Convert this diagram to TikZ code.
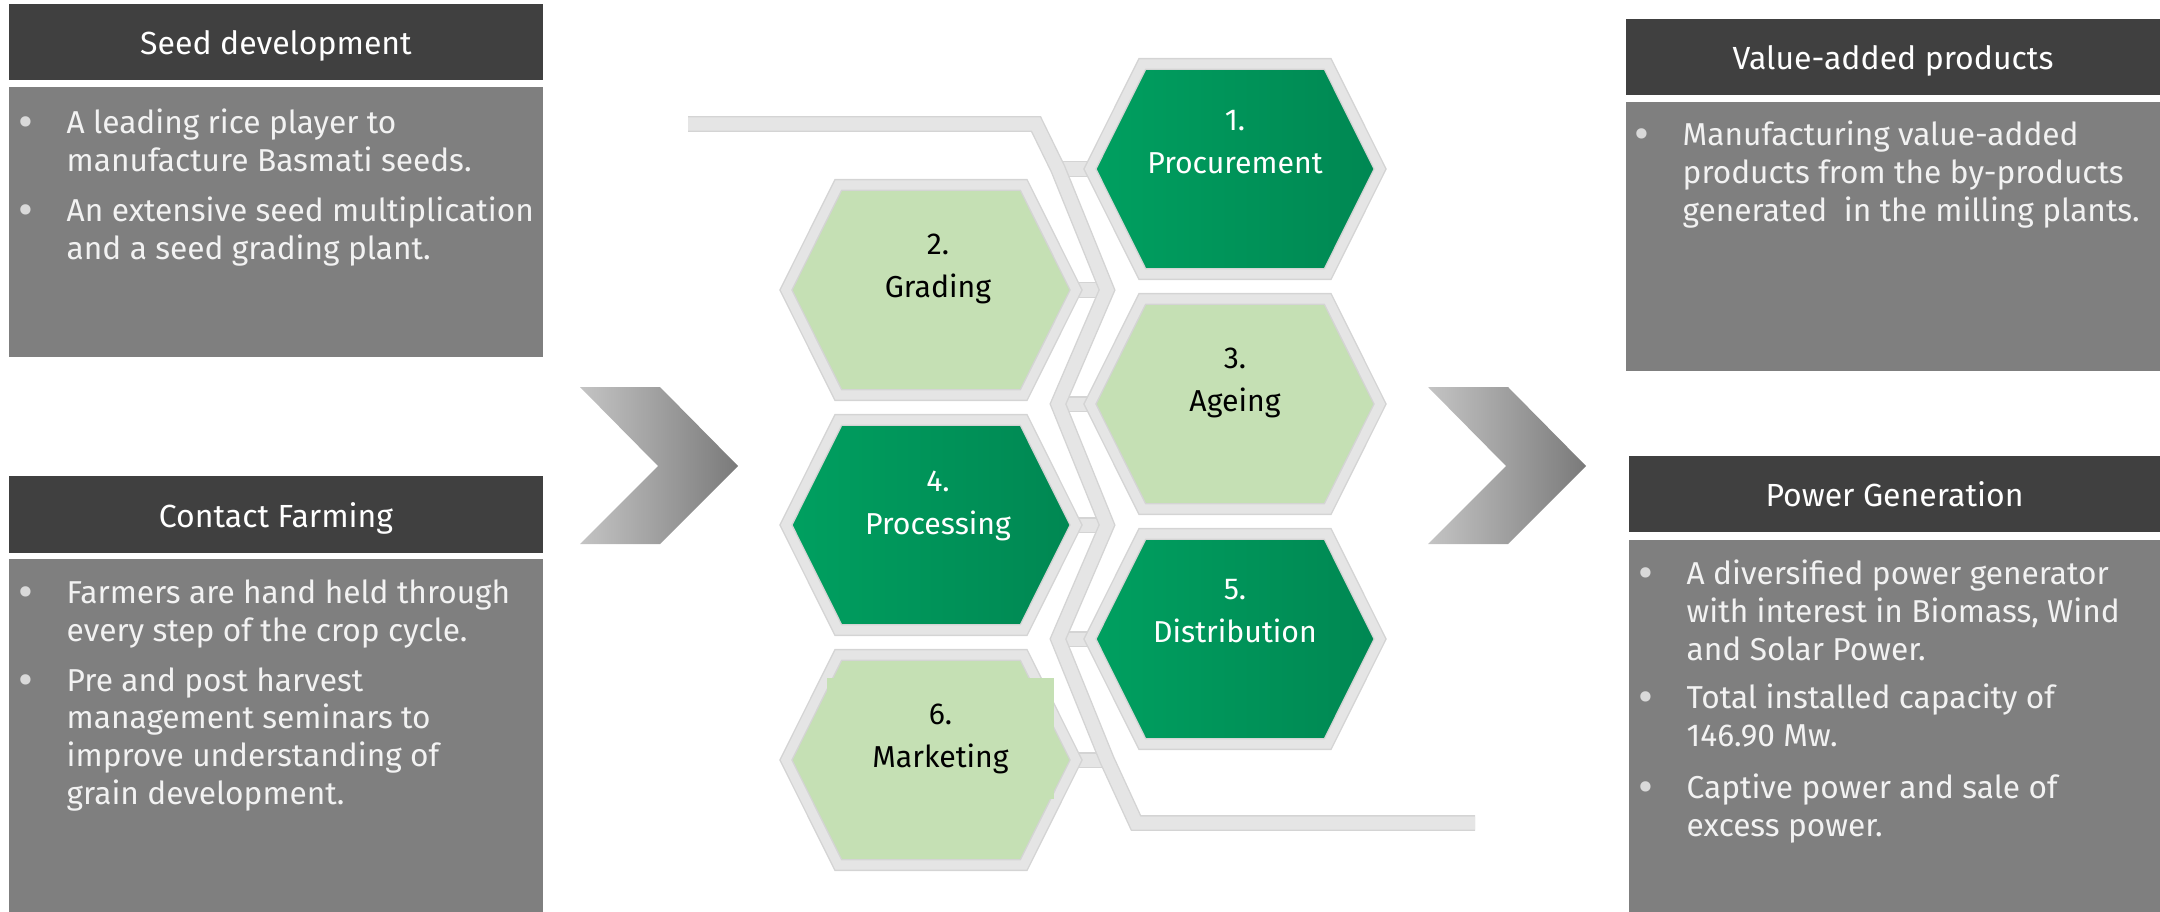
\documentclass[tikz,border=0pt]{standalone}
\usepackage{fontspec}
\setmainfont{Fira Sans}
\usetikzlibrary{shapes.symbols,backgrounds,calc}

\definecolor{headgray}{HTML}{404040}
\definecolor{bodygray}{HTML}{7F7F7F}
\definecolor{bodytext}{HTML}{F2F2F2}
\definecolor{dotgray}{HTML}{D9D9D9}
\definecolor{hexgray}{HTML}{E5E5E5}
\definecolor{hexline}{HTML}{D4D4D4}
\definecolor{greendarkA}{HTML}{00A060}
\definecolor{greendarkB}{HTML}{008752}
\definecolor{greenlight}{HTML}{C5E0B4}
\definecolor{chevL}{HTML}{C4C4C4}
\definecolor{chevR}{HTML}{7A7A7A}

\newcommand{\dotitem}{\llap{\raisebox{-0.04cm}{\textcolor{dotgray}{\fontsize{13}{13}\selectfont\textbullet}}\hspace{0.33cm}}}

\begin{document}
\begin{tikzpicture}[x=0.01cm, y=-0.01cm,
        head/.style={rectangle, fill=headgray, text=white, minimum height=0.76cm, inner sep=0, text height=1.4ex, text depth=0pt, font=\fontsize{9.1}{11}\selectfont},
        panel/.style={rectangle, fill=bodygray, inner sep=0},
        itemtext/.style={anchor=base west, align=left, inner sep=0, text=bodytext, font=\fontsize{9}{10.67}\selectfont},
        hexcell/.style={signal, signal to=east and west, signal pointer angle=127, minimum width=2.9cm, minimum height=2.1cm, inner sep=0, draw=hexline, double=hexgray, double distance=0.092cm, line width=0.4pt},
        darkcell/.style={hexcell, left color=greendarkA, right color=greendarkB},
        lightcell/.style={hexcell, fill=greenlight},
        steplabel/.style={anchor=base, align=center, inner sep=0, font=\fontsize{8.6}{12.2}\selectfont},
        strip/.style={draw=hexline, double=hexgray, double distance=0.13cm, line width=0.4pt},
    ]
        \useasboundingbox (0,0) rectangle (2160,912);

        % Left panels
        \node[head, minimum width=5.34cm] (seedhead) at (276,42) {Seed development};
        \node[panel, minimum width=5.34cm, minimum height=2.70cm] (seedbody) at (276,222) {};
        \node[itemtext] (seed1) at (66,171) {\dotitem A leading rice player to\\manufacture Basmati seeds.};
        \node[itemtext] (seed2) at (66,259) {\dotitem An extensive seed multiplication\\and a seed grading plant.};

        \node[head, minimum width=5.34cm] (farmhead) at (276,514.5) {Contact Farming};
        \node[panel, minimum width=5.34cm, minimum height=3.53cm] (farmbody) at (276,735.5) {};
        \node[itemtext] (farm1) at (66,641) {\dotitem Farmers are hand held through\\every step of the crop cycle.};
        \node[itemtext] (farm2) at (66,804) {\dotitem Pre and post harvest\\management seminars to\\improve understanding of\\grain development.};

        % Right panels
        \node[head, minimum width=5.34cm] (valuehead) at (1893,57) {Value-added products};
        \node[panel, minimum width=5.34cm, minimum height=2.69cm] (valuebody) at (1893,236.5) {};
        \node[itemtext] (value1) at (1682,221) {\dotitem Manufacturing value-added\\products from the by-products\\generated\ \ in the milling plants.};

        \node[head, minimum width=5.31cm] (powerhead) at (1894.5,494) {Power Generation};
        \node[panel, minimum width=5.31cm, minimum height=3.72cm] (powerbody) at (1894.5,726) {};
        \node[itemtext] (power1) at (1686,660) {\dotitem A diversified power generator\\with interest in Biomass, Wind\\and Solar Power.};
        \node[itemtext] (power2) at (1686,746) {\dotitem Total installed capacity of\\146.90 Mw.};
        \node[itemtext] (power3) at (1686,836) {\dotitem Captive power and sale of\\excess power.};

        % Chevrons
        \shade[left color=chevL, right color=chevR] (580,387) -- (660,387) -- (738,466) -- (660,544) -- (580,544) -- (658,466) -- cycle;
        \shade[left color=chevL, right color=chevR] (1428,387) -- (1508,387) -- (1586,466) -- (1508,544) -- (1428,544) -- (1506,466) -- cycle;

        % Honeycomb steps
        \node[darkcell] (proc) at (1235,169) {};
        \node[lightcell] (grad) at (931,290) {};
        \node[lightcell] (ageing) at (1235,404) {};
        \node[darkcell] (processing) at (931,525) {};
        \node[darkcell] (distr) at (1235,639) {};
        \node[lightcell] (market) at (931,760) {};

        \node[steplabel, text=white] (proc-t) at ([yshift=-0.04cm]proc.center) {1.\\Procurement};
        \node[steplabel] (grad-t) at ([xshift=0.07cm, yshift=-0.07cm]grad.center) {2.\\Grading};
        \node[steplabel] (ageing-t) at ([yshift=-0.07cm]ageing.center) {3.\\Ageing};
        \node[steplabel, text=white] (processing-t) at ([xshift=0.07cm, yshift=-0.09cm]processing.center) {4.\\Processing};
        \node[steplabel, text=white] (distr-t) at ([yshift=-0.03cm]distr.center) {5.\\Distribution};
        \node[steplabel, fill=greenlight, minimum width=2.27cm, minimum height=1.2cm] (market-t) at ([xshift=0.095cm, yshift=-0.07cm]market.center) {6.\\Marketing};

        % Connector strip
        \coordinate (topstart) at (688,124);
        \coordinate (topbend) at (1036,124);
        \coordinate (z1) at (1058,169);
        \coordinate (z2) at (1107,290);
        \coordinate (z3) at (1058,404);
        \coordinate (z4) at (1107,525);
        \coordinate (z5) at (1058,639);
        \coordinate (z6) at (1107,760);
        \coordinate (botbend) at (1136,823);
        \coordinate (botend) at (1475,823);

        \begin{scope}[on background layer]
            \draw[strip] (proc) -- (z1);
            \draw[strip] (grad) -- (z2);
            \draw[strip] (ageing) -- (z3);
            \draw[strip] (processing) -- (z4);
            \draw[strip] (distr) -- (z5);
            \draw[strip] (market) -- (z6);
            \draw[strip] (topstart) -- (topbend) -- (z1) -- (z2) -- (z3) -- (z4) -- (z5) -- (z6) -- (botbend) -- (botend);
        \end{scope}
    \end{tikzpicture}
\end{document}
